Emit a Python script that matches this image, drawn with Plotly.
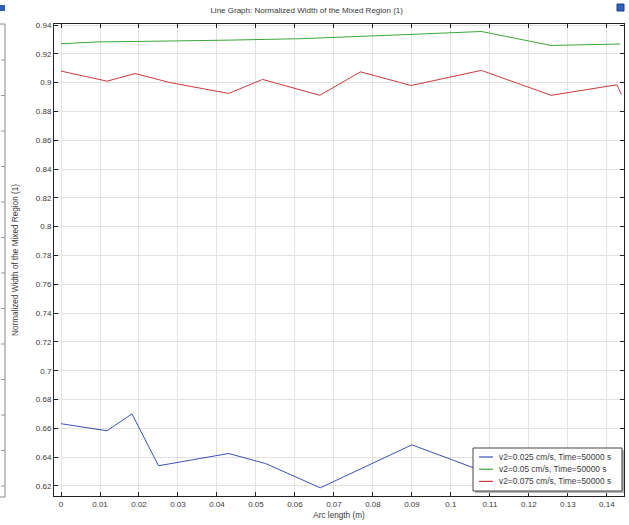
import plotly.graph_objects as go

# Arc length (m) and normalized mixed-region width for each inflow velocity
arc_blue = [0.0, 0.0118, 0.0182, 0.0250, 0.0430, 0.0525, 0.0665, 0.0900, 0.1060,
            0.1180, 0.1300, 0.1396, 0.1426, 0.1437]
width_blue = [0.6632, 0.6583, 0.6700, 0.6340, 0.6425, 0.6355, 0.6187, 0.6485, 0.6324,
              0.6260, 0.6210, 0.6180, 0.6185, 0.6400]

arc_green = [0.0, 0.0100, 0.0200, 0.0300, 0.0430, 0.0615, 0.0750, 0.0900, 0.1078,
             0.1257, 0.1434]
width_green = [0.9270, 0.9283, 0.9286, 0.9289, 0.9295, 0.9305, 0.9318, 0.9335, 0.9355,
               0.9258, 0.9268]

arc_red = [0.0, 0.0118, 0.0190, 0.0280, 0.0430, 0.0517, 0.0664, 0.0768, 0.0898,
           0.1078, 0.1257, 0.1426, 0.1437]
width_red = [0.9080, 0.9010, 0.9063, 0.9000, 0.8925, 0.9022, 0.8912, 0.9075, 0.8980,
             0.9085, 0.8912, 0.8985, 0.8918]

series_names = ["v2=0.025 cm/s, Time=50000 s",
                "v2=0.05 cm/s, Time=50000 s",
                "v2=0.075 cm/s, Time=50000 s"]
series_colors = ["#3b52b8", "#3aa83a", "#cc3a40"]

x_ticks = [0, 0.01, 0.02, 0.03, 0.04, 0.05, 0.06, 0.07, 0.08, 0.09, 0.1, 0.11, 0.12, 0.13, 0.14]
y_ticks = [0.62, 0.64, 0.66, 0.68, 0.7, 0.72, 0.74, 0.76, 0.78, 0.8, 0.82, 0.84,
           0.86, 0.88, 0.9, 0.92, 0.94]

FONT = "Liberation Sans, Arial, sans-serif"
TXT = "#3a3a3a"

# plot area in pixels: used to place paper-referenced decorations
L, R, T, B = 54, 624, 24, 496


def px(x):
    return (x - L) / (R - L)


def py(y):
    return (B - y) / (B - T)


fig = go.Figure()
for xs, ys, name, col in zip([arc_blue, arc_green, arc_red],
                             [width_blue, width_green, width_red],
                             series_names, series_colors):
    fig.add_trace(go.Scatter(x=xs, y=ys, mode="lines", name=name,
                             line=dict(color=col, width=1), showlegend=False))

axis_common = dict(
    showline=True, linecolor="#222", linewidth=1, mirror="allticks",
    ticks="inside", ticklen=4, tickcolor="#222",
    showgrid=True, gridcolor="#e2e2e2", gridwidth=1,
    zeroline=False, tickfont=dict(family=FONT, size=8, color=TXT),
)

fig.update_layout(
    width=629, height=525,
    margin=dict(l=L, r=629 - R, t=T, b=525 - B),
    paper_bgcolor="white", plot_bgcolor="white",
    title=dict(text="Line Graph: Normalized Width of the Mixed Region (1)",
               x=0.4876, xanchor="center", y=0.981, yanchor="middle",
               font=dict(family=FONT, size=8, color=TXT)),
    xaxis=dict(axis_common, range=[-0.0018, 0.1444], tickvals=x_ticks,
               ticktext=[f"{v:g}" for v in x_ticks],
               title=dict(text="Arc length (m)", standoff=4,
                          font=dict(family=FONT, size=8.2, color=TXT))),
    yaxis=dict(axis_common, range=[0.613, 0.9407], tickvals=y_ticks,
               ticktext=[f"{v:g}" for v in y_ticks],
               title=dict(text="Normalized Width of the Mixed Region (1)", standoff=15,
                          font=dict(family=FONT, size=8.2, color=TXT))),
    showlegend=False,
)

# neighbouring panel frame on the left edge, with its tick marks
fig.add_shape(type="line", xref="paper", yref="paper", x0=px(5), x1=px(5), y0=py(497), y1=py(24),
              line=dict(color="#888", width=1))
fig.add_shape(type="line", xref="paper", yref="paper", x0=px(0), x1=px(5), y0=py(24), y1=py(24),
              line=dict(color="#888", width=1))
fig.add_shape(type="line", xref="paper", yref="paper", x0=px(0), x1=px(5), y0=py(497), y1=py(497),
              line=dict(color="#888", width=1))
for k in range(13):
    yy = 486 - k * 35.5
    if yy > 26:
        fig.add_shape(type="line", xref="paper", yref="paper", x0=px(1), x1=px(5), y0=py(yy), y1=py(yy),
                      line=dict(color="#999", width=1))

# small toolbar icons in the top corners
fig.add_shape(type="rect", xref="paper", yref="paper", x0=px(0), x1=px(5), y0=py(11), y1=py(5),
              fillcolor="#2f5fb8", line=dict(width=0))
fig.add_shape(type="rect", xref="paper", yref="paper", x0=px(617), x1=px(624), y0=py(11), y1=py(4),
              fillcolor="#2f5fb8", line=dict(color="#1a3f8a", width=1))

# legend box with drop shadow, drawn over the curves
lx0, lx1, ly0, ly1 = 473, 622, 448, 491
fig.add_shape(type="rect", xref="paper", yref="paper", x0=px(lx0 + 2), x1=px(lx1 + 2),
              y0=py(ly1 + 2), y1=py(ly0 + 2), fillcolor="#b5b5b5", line=dict(width=0), layer="above")
fig.add_shape(type="rect", xref="paper", yref="paper", x0=px(lx0), x1=px(lx1),
              y0=py(ly1), y1=py(ly0), fillcolor="white", line=dict(color="#444", width=1),
              layer="above")
for i, (name, col) in enumerate(zip(series_names, series_colors)):
    yy = 457 + i * 12.2
    fig.add_shape(type="line", xref="paper", yref="paper", x0=px(479), x1=px(493),
                  y0=py(yy), y1=py(yy), line=dict(color=col, width=1.2), layer="above")
    fig.add_annotation(xref="paper", yref="paper", x=px(497), y=py(yy), text=name,
                       showarrow=False, xanchor="left", yanchor="middle",
                       font=dict(family=FONT, size=8.4, color=TXT))

fig.write_html("out.html")
